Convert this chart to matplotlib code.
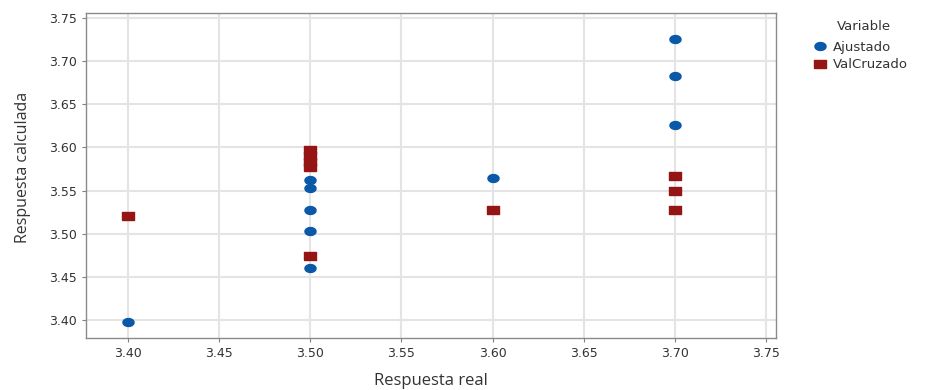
import numpy as np
import matplotlib.pyplot as plt
from matplotlib.path import Path

# data
ajustado_x = [3.40, 3.50, 3.50, 3.50, 3.50, 3.50, 3.60, 3.70, 3.70, 3.70]
ajustado_y = [3.398, 3.562, 3.553, 3.527, 3.503, 3.460, 3.565, 3.726, 3.683, 3.626]
valcruz_x = [3.40, 3.50, 3.50, 3.50, 3.50, 3.50, 3.60, 3.70, 3.70, 3.70]
valcruz_y = [3.521, 3.597, 3.590, 3.583, 3.577, 3.474, 3.527, 3.567, 3.549, 3.528]
ticks_x = [3.40, 3.45, 3.50, 3.55, 3.60, 3.65, 3.70, 3.75]
ticks_y = [3.40, 3.45, 3.50, 3.55, 3.60, 3.65, 3.70, 3.75]

blue = '#0a58a8'
red = '#951515'
txt = '#333333'

plt.rcParams['font.family'] = ['Open Sans', 'DejaVu Sans']

# the reference is stretched sideways, so the markers are too
t = np.linspace(0, 2 * np.pi, 40)
ellipse = Path(np.column_stack([1.4 * np.cos(t), np.sin(t)]))
rect = Path([(-1.3, -1), (1.3, -1), (1.3, 1), (-1.3, 1), (-1.3, -1)])

fig = plt.figure(figsize=(9.3, 3.9), dpi=100)
ax = fig.add_axes([0.0925, 0.1333, 0.742, 0.8334])

ax.plot(ajustado_x, ajustado_y, ls='none', marker=ellipse, ms=8, color=blue, label='Ajustado', zorder=3)
ax.plot(valcruz_x, valcruz_y, ls='none', marker=rect, ms=8, color=red, label='ValCruzado', zorder=3)

ax.set_xlim(3.377, 3.7555)
ax.set_ylim(3.379, 3.756)
ax.set_xticks(ticks_x)
ax.set_yticks(ticks_y)
ax.set_xticklabels([f'{v:.2f}' for v in ticks_x], family='DejaVu Sans')
ax.set_yticklabels([f'{v:.2f}' for v in ticks_y], family='DejaVu Sans')
ax.grid(True, color='#e4e4e4', lw=1.5)
ax.set_axisbelow(True)
ax.tick_params(colors='#808080', labelcolor=txt, labelsize=9, length=3, width=0.8)
for s in ax.spines.values():
    s.set_color('#8a8a8a')
    s.set_linewidth(1.0)

ax.set_xlabel('Respuesta real', fontsize=12, color=txt, labelpad=9)
ax.set_ylabel('Respuesta calculada', fontsize=11.5, color=txt)
ax.yaxis.set_label_coords(-0.08, 0.526)

fig.text(837 / 930, 1 - 26 / 390, 'Variable', fontsize=9.5, color=txt, va='center', family='DejaVu Sans')
fig.legend(loc='upper left', bbox_to_anchor=(807 / 930, 1 - 34 / 390), frameon=False,
           labelcolor=txt, handletextpad=0.5, borderpad=0, labelspacing=0.35,
           handlelength=1.0, prop={'family': 'DejaVu Sans', 'size': 9.5})

fig.savefig('out.png', dpi=100)
